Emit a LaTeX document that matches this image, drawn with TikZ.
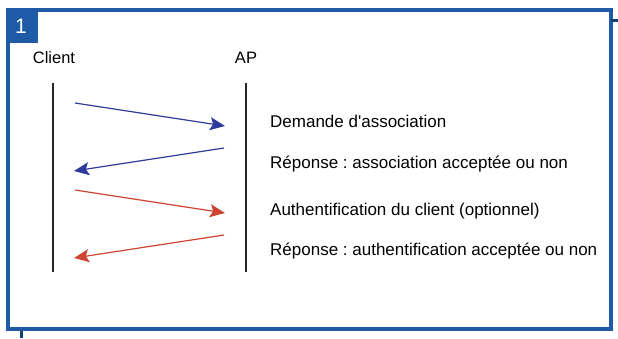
\documentclass[tikz,border=0pt]{standalone}
\usepackage{fontspec}
\setmainfont{Liberation Sans}[Ligatures=TeXOff]
\usetikzlibrary{arrows.meta}
\definecolor{frameblue}{HTML}{1F5AA6}
\definecolor{msgblue}{HTML}{2F3B9C}
\definecolor{msgred}{HTML}{CC4530}
\frenchspacing
\tikzset{
  lbl/.style={anchor=base west, inner sep=0pt, font=\fontsize{17}{19}\selectfont},
  actor/.style={anchor=base, inner sep=0pt, font=\fontsize{16.5}{18}\selectfont},
  life/.style={line width=1.3pt, black!85},
  msg/.style={line width=1.2pt, -{Stealth[length=15pt, width=13pt, inset=3pt]}},
}
\begin{document}
\begin{tikzpicture}[x=1pt, y=-1pt]
\useasboundingbox (0,0) rectangle (618,338);
\fill[white] (0,0) rectangle (618,338);
% frame
\draw[frameblue, line width=4.5pt] (8,10) rectangle (611,329);
\draw[frameblue!70!black, line width=3pt] (21,331) -- (21,338);
\draw[frameblue!70!black, line width=3pt] (611,20) -- (618,20);
\fill[frameblue] (6,8) rectangle (38,43);
\node[text=white, font=\fontsize{21}{23}\selectfont, inner sep=0pt] (num) at (21,26) {1};
% actors
\node[actor] (client) at (54,63) {Client};
\node[actor] (ap) at (246,63) {AP};
\coordinate (c0) at (53,83);
\coordinate (c1) at (53,272);
\coordinate (a0) at (246,83);
\coordinate (a1) at (246,272);
\draw[life] (c0) -- (c1);
\draw[life] (a0) -- (a1);
% messages
\coordinate (m1s) at (75,103); \coordinate (m1e) at (225,126);
\coordinate (m2s) at (224,148); \coordinate (m2e) at (74,171);
\coordinate (m3s) at (75,190); \coordinate (m3e) at (225,213);
\coordinate (m4s) at (224,235); \coordinate (m4e) at (74,258);
\draw[msg, msgblue] (m1s) -- (m1e);
\draw[msg, msgblue] (m2s) -- (m2e);
\draw[msg, msgred] (m3s) -- (m3e);
\draw[msg, msgred] (m4s) -- (m4e);
% labels
\node[lbl] (l1) at (270,127) {Demande d'association};
\node[lbl] (l2) at (270,168) {Réponse : association acceptée ou non};
\node[lbl] (l3) at (270,215) {Authentification du client (optionnel)};
\node[lbl] (l4) at (270,255) {Réponse : authentification acceptée ou non};
\end{tikzpicture}
\end{document}
